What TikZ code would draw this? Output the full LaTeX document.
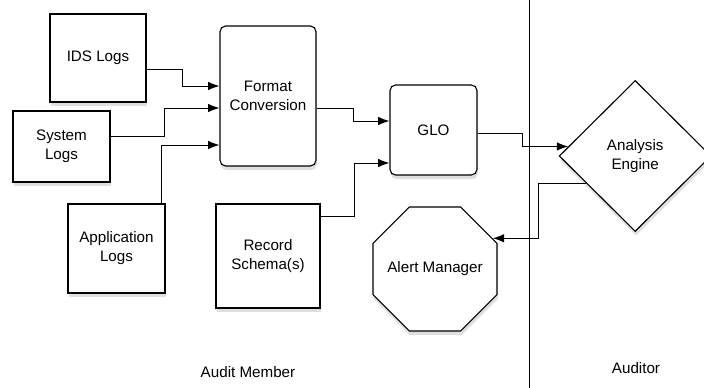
\documentclass[tikz,border=0pt]{standalone}
\usepackage{fontspec}
\setmainfont{Liberation Sans}
\usetikzlibrary{shapes.geometric,shadows,arrows.meta,calc}

\begin{document}
\begin{tikzpicture}[scale=1,
	logbox/.style={draw, line width=0.8pt, fill=white, align=center, inner sep=0pt,
		drop shadow={opacity=0.25, shadow xshift=0.6pt, shadow yshift=-3pt}},
	roundbox/.style={logbox, rounded corners=4pt},
	flow/.style={line width=0.7pt, -{Latex[length=8pt,width=6pt]}},
	every node/.style={font=\fontsize{10.8}{13.6}\selectfont}]
	\useasboundingbox (0,0) rectangle (17.6,9.7);
	\draw (13.225,0) -- (13.225,9.7);
	\draw (2.45,8.25) node[logbox, minimum width=2.4cm, minimum height=2.2cm](ids) {IDS Logs};
	\draw (1.5375,6.0375) node[logbox, minimum width=2.425cm, minimum height=1.775cm](sys) {System\\Logs};
	\draw (2.9125,3.4875) node[logbox, minimum width=2.425cm, minimum height=2.225cm](app) {Application\\Logs};
	\draw (6.7,7.3) node[roundbox, minimum width=2.4cm, minimum height=3.5cm](fmt) {Format\\Conversion};
	\draw (6.7,3.3) node[logbox, minimum width=2.6cm, minimum height=2.6cm](rec) {Record\\Schema(s)};
	\draw (10.8375,6.45) node[roundbox, minimum width=2.175cm, minimum height=2.25cm](glo) {GLO};
	\draw (15.88,5.8) node[logbox, diamond, minimum width=3.8cm, minimum height=3.775cm](ana) {Analysis\\Engine};
	\draw (10.875,2.975) node[logbox, regular polygon, regular polygon sides=8, minimum size=3.356cm,
		label=center:Alert Manager](alert) {};
	\draw (6.2,0.4) node(member) {Audit Member};
	\draw (15.9,0.5) node(auditor) {Auditor};
	\draw[flow] ([yshift=-0.275cm]ids.east) -- ++(0.9,0) |- ([yshift=0.25cm]fmt.west);
	\draw[flow] ([yshift=0.2625cm]sys.east) -- ++(1.35,0) |- ([yshift=-0.3cm]fmt.west);
	\draw[flow] ([xshift=1.1125cm]app.north) |- ([yshift=-1.225cm]fmt.west);
	\draw[flow] ([yshift=-0.3cm]fmt.east) -- ++(0.925,0) |- ([yshift=0.225cm]glo.west);
	\draw[flow] ([yshift=1.0cm]rec.east) -- ++(0.85,0) |- ([yshift=-0.825cm]glo.west);
	\draw[flow] ([yshift=-0.075cm]glo.east) -- ++(1.125,0) |- ($(ana.west)!0.125!(ana.north)$);
	\draw[flow] ($(ana.west)!0.36!(ana.south)$) -- ++(-1.185,0) |- (alert.28.5);
\end{tikzpicture}
\end{document}
